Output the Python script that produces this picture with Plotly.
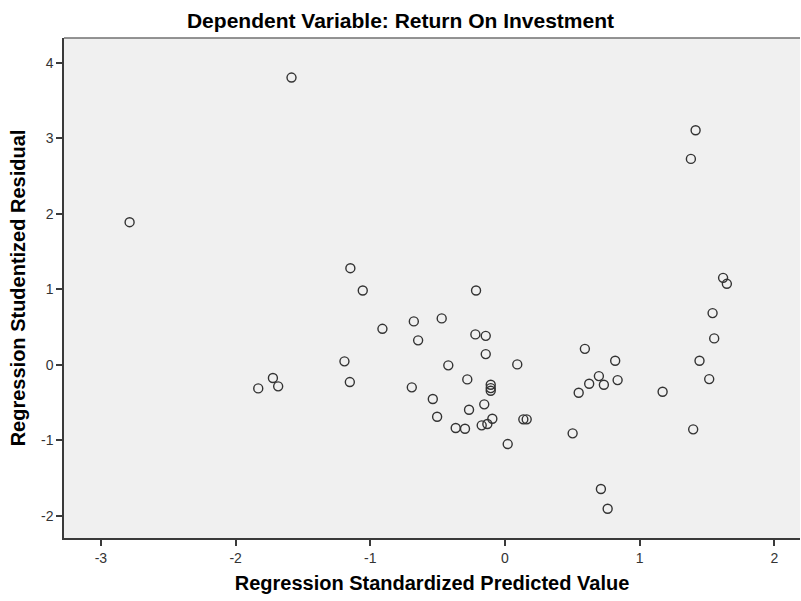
import plotly.graph_objects as go

# Regression Standardized Predicted Value (x) vs Regression Studentized Residual (y)
pred_value = [
    -2.787, -1.585, -1.148, -1.056, -0.215, -0.910, -0.677, -0.470, -0.645, -0.220,
    -0.143, -0.143, -1.192, -0.421, 0.091, -1.152, -1.723, -1.684, -1.832, -0.692,
    -0.280, -0.106, -0.106, -0.106, -0.536, -0.267, -0.154, -0.504, -0.094, -0.366,
    -0.297, -0.173, -0.131, 0.136, 0.161, 0.020, 0.593, 0.818, 0.697, 0.625,
    0.734, 0.836, 0.547, 1.170, 0.502, 0.712, 0.762, 1.553, 1.444, 1.516,
    1.397, 1.619, 1.647, 1.541, 1.415, 1.380,
]
stud_residual = [
    1.887, 3.802, 1.278, 0.983, 0.983, 0.475, 0.573, 0.613, 0.322, 0.401,
    0.382, 0.140, 0.044, -0.009, 0.004, -0.230, -0.177, -0.287, -0.314, -0.300,
    -0.195, -0.266, -0.310, -0.345, -0.455, -0.597, -0.525, -0.689, -0.716, -0.839,
    -0.848, -0.803, -0.786, -0.724, -0.724, -1.051, 0.210, 0.052, -0.151, -0.253,
    -0.266, -0.204, -0.372, -0.359, -0.909, -1.646, -1.907, 0.348, 0.052, -0.191,
    -0.856, 1.150, 1.071, 0.683, 3.104, 2.725,
]

x_ticks = [-3, -2, -1, 0, 1, 2]
x_labels = ['-3', '-2', '-1', '0', '1', '2']
y_ticks = [-2, -1, 0, 1, 2, 3, 4]
y_labels = ['-2', '-1', '0', '1', '2', '3', '4']

fig = go.Figure()

fig.add_trace(go.Scatter(
    x=pred_value,
    y=stud_residual,
    mode='markers',
    marker=dict(symbol='circle-open', size=9, color='#333333',
                line=dict(width=1.4, color='#333333')),
    showlegend=False,
))

axis_font = dict(family='Liberation Sans, Arial, sans-serif', size=14, color='#333333')
title_font = dict(family='Liberation Sans, Arial, sans-serif', size=20, color='#000000')

fig.update_layout(
    width=801, height=601,
    margin=dict(l=64, r=1, t=38, b=63),
    paper_bgcolor='white',
    plot_bgcolor='#f0f0f0',
    title=dict(text='<b>Dependent Variable: Return On Investment</b>',
               x=0.5, xanchor='center', y=0.965, yanchor='middle',
               font=dict(title_font, size=21), automargin=False),
    xaxis=dict(
        range=[-3.274, 2.19], tickvals=x_ticks, ticktext=x_labels,
        showgrid=False, zeroline=False, automargin=False,
        showline=True, linecolor='#3a3a3a', linewidth=1.5,
        ticks='outside', ticklen=6, tickwidth=1.5, tickcolor='#3a3a3a',
        tickfont=axis_font,
        title=dict(text='<b>Regression Standardized Predicted Value</b>',
                   font=title_font, standoff=11),
    ),
    yaxis=dict(
        range=[-2.295, 4.326], tickvals=y_ticks, ticktext=y_labels,
        showgrid=False, zeroline=False, automargin=False,
        showline=True, linecolor='#3a3a3a', linewidth=1.5,
        ticks='outside', ticklen=6, tickwidth=1.5, tickcolor='#3a3a3a',
        tickfont=axis_font,
        title=dict(text='<b>Regression Studentized Residual</b>',
                   font=title_font, standoff=10),
    ),
)

# thin top frame line like the SPSS chart
fig.add_shape(type='line', xref='paper', yref='paper', x0=0, x1=1, y0=1, y1=1,
              line=dict(color='#707070', width=1.5))

# drop the browser's default body margin so the figure sits at the page corner
fig.write_html("out.html", config={'displayModeBar': False},
               post_script="document.body.style.margin='0';")
